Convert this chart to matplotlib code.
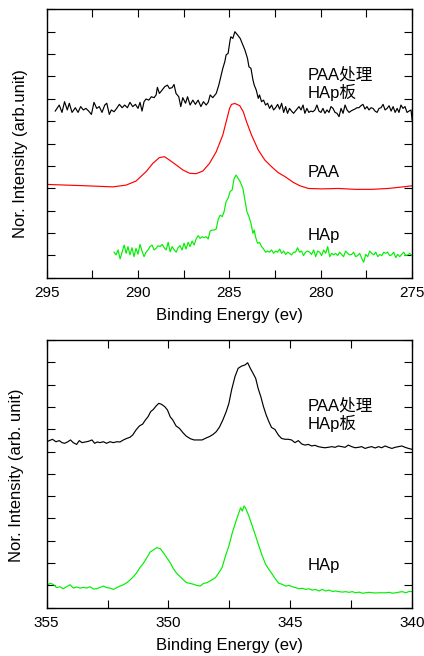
import matplotlib
matplotlib.use("Agg")
import matplotlib.pyplot as plt
from matplotlib.ticker import MultipleLocator, NullFormatter

plt.rcParams['font.family'] = ['Liberation Sans', 'Noto Sans CJK SC', 'DejaVu Sans']

# ---------------- C1s panel (top) ----------------
c1s_treated_e = [294.53, 294.31, 294.16, 294.02, 293.87, 293.76, 293.61, 293.43, 293.28, 293.14,
                 292.99, 292.85, 292.70, 292.55, 292.41, 292.26, 292.12, 291.97, 291.82, 291.71,
                 291.57, 291.46, 291.31, 291.17, 291.02, 290.87, 290.73, 290.58, 290.44, 290.29,
                 290.14, 290.00, 289.89, 289.78, 289.67, 289.56, 289.41, 289.27, 289.12, 289.01,
                 288.94, 288.83, 288.68, 288.54, 288.39, 288.28, 288.13, 288.03, 287.92, 287.77,
                 287.66, 287.55, 287.40, 287.29, 287.15, 287.00, 286.86, 286.71, 286.56, 286.42,
                 286.27, 286.16, 286.05, 285.91, 285.72, 285.58, 285.47, 285.36, 285.25, 285.18,
                 285.07, 284.96, 284.92, 284.81, 284.70, 284.55, 284.41, 284.30, 284.15, 284.01,
                 283.93, 283.82, 283.71, 283.64, 283.53, 283.42, 283.35, 283.24, 283.13, 283.02,
                 282.91, 282.80, 282.69, 282.58, 282.47, 282.36, 282.25, 282.14, 282.03, 281.92,
                 281.82, 281.71, 281.60, 281.49, 281.34, 281.19, 281.08, 280.97, 280.87, 280.76,
                 280.65, 280.54, 280.43, 280.32, 280.21, 280.10, 279.99, 279.88, 279.77, 279.66,
                 279.55, 279.44, 279.33, 279.22, 279.11, 279.00, 278.89, 278.78, 278.67, 278.56,
                 278.45, 278.35, 278.24, 278.13, 278.02, 277.91, 277.80, 277.69, 277.58, 277.47,
                 277.36, 277.25, 277.14, 277.03, 276.92, 276.81, 276.70, 276.59, 276.48, 276.37,
                 276.26, 276.15, 276.04, 275.93, 275.82, 275.72, 275.61, 275.50, 275.39, 275.28,
                 275.17, 275.06, 275.00]
c1s_treated_i = [7.45, 7.72, 7.39, 7.87, 7.50, 7.80, 7.39, 7.60, 7.39, 7.65,
                 7.50, 7.57, 7.45, 7.30, 7.84, 7.57, 7.65, 7.39, 7.72, 7.80,
                 7.30, 7.50, 7.42, 7.57, 7.75, 7.60, 7.72, 7.60, 7.84, 7.65,
                 7.75, 7.57, 7.84, 7.45, 7.87, 7.99, 7.94, 8.09, 8.05, 8.17,
                 8.51, 8.24, 8.39, 8.54, 8.61, 8.46, 8.50, 8.64, 8.24, 8.09,
                 7.65, 8.05, 7.80, 8.09, 7.72, 7.94, 7.75, 7.94, 7.65, 7.87,
                 7.72, 7.84, 8.17, 8.05, 8.24, 8.61, 8.99, 9.36, 9.66, 9.96,
                 10.03, 10.63, 10.77, 10.70, 11.00, 10.85, 10.70, 10.48, 10.18, 9.81,
                 9.43, 9.36, 8.84, 8.61, 8.39, 8.02, 8.17, 7.87, 7.94, 7.72,
                 7.80, 7.57, 7.72, 7.50, 7.60, 7.75, 7.54, 7.80, 7.39, 7.65,
                 7.35, 7.57, 7.45, 7.35, 7.50, 7.65, 7.50, 7.72, 7.35, 7.57,
                 7.39, 7.45, 7.42, 7.50, 7.72, 7.45, 7.39, 7.57, 7.35, 7.50,
                 7.39, 7.65, 7.57, 7.39, 7.35, 7.20, 7.57, 7.35, 7.72, 7.50,
                 7.39, 7.45, 7.50, 7.54, 7.60, 7.60, 7.69, 7.75, 7.54, 7.65,
                 7.50, 7.60, 7.57, 7.45, 7.39, 7.57, 7.60, 7.75, 7.50, 7.57,
                 7.69, 7.45, 7.65, 7.39, 7.57, 7.39, 7.72, 7.57, 7.65, 7.39,
                 7.45, 7.50, 7.05]

c1s_paa_e = [295.00, 293.94, 292.85, 291.38, 290.65, 290.11, 289.56, 289.19, 288.83, 288.55,
             288.28, 287.91, 287.55, 287.18, 286.82, 286.45, 286.09, 285.72, 285.36, 284.99,
             284.88, 284.70, 284.43, 284.24, 284.06, 283.79, 283.42, 283.06, 282.69, 282.33,
             281.96, 281.50, 281.14, 280.68, 279.95, 279.04, 278.12, 277.21, 276.30, 275.39,
             275.00]
c1s_paa_i = [4.17, 4.14, 4.11, 4.06, 4.14, 4.32, 4.74, 5.11, 5.37, 5.41,
             5.26, 5.04, 4.82, 4.67, 4.65, 4.77, 5.11, 5.63, 6.38, 7.57,
             7.75, 7.79, 7.69, 7.42, 6.97, 6.38, 5.71, 5.26, 4.96, 4.70,
             4.52, 4.26, 4.11, 3.99, 3.97, 3.99, 3.95, 3.95, 3.99, 4.07,
             4.11]

c1s_hap_e = [291.31, 291.20, 291.09, 290.98, 290.87, 290.76, 290.65, 290.55, 290.44, 290.33,
             290.22, 290.11, 290.00, 289.89, 289.78, 289.67, 289.56, 289.45, 289.34, 289.23,
             289.12, 289.01, 288.90, 288.79, 288.68, 288.57, 288.46, 288.35, 288.24, 288.13,
             288.02, 287.91, 287.81, 287.70, 287.59, 287.48, 287.37, 287.26, 287.15, 287.04,
             286.93, 286.82, 286.71, 286.60, 286.49, 286.38, 286.27, 286.16, 286.05, 285.94,
             285.83, 285.72, 285.61, 285.50, 285.39, 285.29, 285.18, 285.07, 284.96, 284.85,
             284.74, 284.63, 284.52, 284.41, 284.26, 284.15, 284.04, 283.93, 283.82, 283.71,
             283.64, 283.57, 283.46, 283.35, 283.24, 283.13, 283.02, 282.91, 282.80, 282.69,
             282.58, 282.47, 282.36, 282.25, 282.14, 282.03, 281.92, 281.81, 281.71, 281.60,
             281.49, 281.38, 281.27, 281.16, 281.05, 280.94, 280.83, 280.72, 280.61, 280.50,
             280.39, 280.28, 280.17, 280.06, 279.95, 279.84, 279.73, 279.62, 279.51, 279.40,
             279.29, 279.19, 279.07, 278.97, 278.86, 278.75, 278.64, 278.53, 278.42, 278.31,
             278.20, 278.09, 277.98, 277.87, 277.76, 277.65, 277.54, 277.43, 277.32, 277.21,
             277.10, 276.99, 276.88, 276.77, 276.66, 276.55, 276.45, 276.34, 276.23, 276.12,
             276.01, 275.90, 275.79, 275.68, 275.57, 275.46, 275.35, 275.24, 275.13, 275.02]
c1s_hap_i = [1.14, 1.02, 1.24, 0.84, 1.14, 1.46, 1.09, 1.39, 1.02, 1.34,
             0.94, 1.31, 1.05, 1.49, 1.19, 0.94, 1.14, 1.24, 1.39, 1.46,
             1.24, 1.31, 1.43, 1.39, 1.49, 1.34, 1.24, 1.58, 1.16, 1.39,
             1.24, 1.14, 1.34, 1.43, 1.24, 1.54, 1.28, 1.58, 1.39, 1.64,
             1.46, 1.73, 1.88, 1.76, 1.83, 1.79, 1.83, 1.73, 2.09, 2.13,
             2.13, 2.18, 2.62, 2.80, 2.73, 2.95, 3.40, 3.55, 3.85, 3.92,
             4.44, 4.59, 4.44, 4.29, 3.99, 3.47, 2.95, 2.73, 2.43, 1.98,
             2.13, 1.83, 1.54, 1.58, 1.39, 1.28, 1.14, 1.19, 1.14, 1.24,
             1.09, 1.19, 1.14, 1.28, 1.09, 1.19, 1.04, 1.14, 1.09, 1.02,
             1.14, 1.14, 1.34, 1.14, 1.19, 0.99, 1.14, 1.19, 1.14, 1.04,
             1.24, 0.94, 1.19, 1.14, 0.99, 1.24, 1.09, 1.39, 0.94, 1.09,
             1.02, 1.09, 0.99, 1.14, 1.04, 0.94, 1.19, 1.09, 1.02, 1.04,
             1.14, 0.94, 0.99, 1.09, 0.87, 0.69, 1.04, 0.94, 1.19, 1.09,
             1.02, 1.14, 0.94, 1.04, 0.99, 1.14, 1.09, 1.14, 0.99, 1.02,
             1.14, 0.90, 1.04, 0.94, 1.04, 1.14, 0.99, 1.02, 1.09, 0.99]

# ---------------- bottom panel ----------------
ca_treated_e = [355.00, 354.89, 354.76, 354.62, 354.48, 354.37, 354.26, 354.13, 354.02, 353.91,
                353.77, 353.66, 353.55, 353.41, 353.28, 353.14, 353.03, 352.92, 352.81, 352.67,
                352.54, 352.40, 352.26, 352.12, 351.99, 351.85, 351.71, 351.58, 351.47, 351.33,
                351.19, 351.06, 350.95, 350.84, 350.73, 350.62, 350.51, 350.40, 350.29, 350.15,
                350.04, 349.93, 349.82, 349.69, 349.55, 349.41, 349.28, 349.11, 348.95, 348.78,
                348.62, 348.45, 348.32, 348.18, 348.04, 347.91, 347.77, 347.63, 347.52, 347.41,
                347.27, 347.14, 347.00, 346.86, 346.75, 346.64, 346.53, 346.42, 346.32, 346.21,
                346.10, 345.99, 345.88, 345.77, 345.63, 345.49, 345.36, 345.22, 345.08, 344.95,
                344.81, 344.67, 344.53, 344.40, 344.26, 344.12, 343.99, 343.85, 343.71, 343.58,
                343.44, 343.30, 343.16, 343.03, 342.89, 342.75, 342.62, 342.48, 342.34, 342.20,
                342.07, 341.93, 341.79, 341.66, 341.52, 341.38, 341.25, 341.11, 340.97, 340.83,
                340.70, 340.56, 340.42, 340.29, 340.15, 340.01]
ca_treated_i = [7.44, 7.49, 7.55, 7.44, 7.49, 7.40, 7.37, 7.44, 7.52, 7.40,
                7.32, 7.49, 7.40, 7.43, 7.46, 7.52, 7.37, 7.43, 7.40, 7.44,
                7.37, 7.44, 7.40, 7.44, 7.43, 7.52, 7.59, 7.64, 7.74, 7.97,
                8.15, 8.23, 8.41, 8.56, 8.79, 8.89, 9.04, 9.16, 9.12, 9.01,
                8.86, 8.56, 8.41, 8.15, 8.04, 7.85, 7.70, 7.58, 7.52, 7.52,
                7.52, 7.61, 7.67, 7.76, 7.89, 8.09, 8.41, 8.79, 9.16, 9.76,
                10.36, 10.73, 10.83, 10.88, 10.98, 10.73, 10.51, 10.28, 9.83, 9.46,
                9.01, 8.64, 8.34, 8.08, 7.99, 7.74, 7.59, 7.55, 7.55, 7.52,
                7.40, 7.49, 7.34, 7.29, 7.32, 7.25, 7.28, 7.22, 7.19, 7.17,
                7.19, 7.22, 7.19, 7.25, 7.22, 7.19, 7.29, 7.22, 7.17, 7.19,
                7.22, 7.14, 7.19, 7.22, 7.16, 7.22, 7.17, 7.25, 7.19, 7.14,
                7.19, 7.22, 7.25, 7.19, 7.14, 7.10]

ca_hap_e = [355.00, 354.86, 354.73, 354.59, 354.45, 354.32, 354.18, 354.04, 353.90, 353.77,
            353.63, 353.49, 353.36, 353.22, 353.08, 352.95, 352.81, 352.67, 352.54, 352.40,
            352.26, 352.12, 351.99, 351.85, 351.71, 351.58, 351.44, 351.30, 351.17, 351.03,
            350.89, 350.75, 350.62, 350.48, 350.34, 350.21, 350.07, 349.93, 349.80, 349.66,
            349.52, 349.38, 349.25, 349.11, 348.97, 348.84, 348.70, 348.56, 348.43, 348.29,
            348.07, 347.93, 347.80, 347.66, 347.52, 347.38, 347.25, 347.11, 347.04, 346.97,
            346.90, 346.84, 346.70, 346.56, 346.42, 346.29, 346.15, 346.01, 345.88, 345.74,
            345.60, 345.47, 345.33, 345.19, 345.05, 344.92, 344.78, 344.64, 344.51, 344.37,
            344.23, 344.10, 343.96, 343.82, 343.69, 343.55, 343.41, 343.27, 343.14, 343.00,
            342.86, 342.73, 342.59, 342.45, 342.32, 342.18, 342.04, 341.90, 341.77, 341.63,
            341.49, 341.36, 341.22, 341.08, 340.95, 340.81, 340.67, 340.53, 340.40, 340.26,
            340.12, 340.00]
ca_hap_i = [1.00, 1.09, 1.05, 0.90, 0.94, 0.85, 0.94, 1.03, 0.88, 0.93,
            0.88, 0.91, 0.88, 0.94, 0.84, 0.85, 0.91, 0.97, 0.90, 0.88,
            0.82, 0.90, 0.97, 1.03, 1.12, 1.24, 1.39, 1.57, 1.80, 1.99,
            2.24, 2.50, 2.59, 2.69, 2.65, 2.47, 2.24, 2.02, 1.75, 1.54,
            1.39, 1.24, 1.12, 1.09, 1.05, 1.00, 0.97, 1.09, 1.12, 1.20,
            1.35, 1.57, 1.80, 2.32, 2.77, 3.36, 3.81, 4.26, 4.48, 4.33,
            4.56, 4.48, 4.11, 3.66, 3.21, 2.77, 2.32, 1.94, 1.72, 1.50,
            1.27, 1.09, 1.05, 0.97, 1.00, 0.94, 0.90, 0.85, 0.87, 0.82,
            0.85, 0.79, 0.82, 0.75, 0.82, 0.75, 0.79, 0.73, 0.75, 0.72,
            0.70, 0.72, 0.69, 0.72, 0.67, 0.70, 0.65, 0.67, 0.69, 0.67,
            0.66, 0.67, 0.67, 0.67, 0.69, 0.65, 0.67, 0.70, 0.72, 0.67,
            0.73, 0.72]

xlabel_text = "Binding Energy (ev)"
ylabel_top = "Nor. Intensity (arb.unit)"
ylabel_bottom = "Nor. Intensity (arb. unit)"

fig = plt.figure(figsize=(4.24, 6.56), dpi=100)
ax1 = fig.add_axes([0.110, 0.5767, 0.862, 0.4091])
ax2 = fig.add_axes([0.110, 0.0736, 0.862, 0.4081])

lw = 0.85
green = '#00f000'
ax1.plot(c1s_treated_e, c1s_treated_i, color='black', lw=lw)
ax1.plot(c1s_paa_e, c1s_paa_i, color='#ff0000', lw=lw)
ax1.plot(c1s_hap_e, c1s_hap_i, color=green, lw=lw)
ax2.plot(ca_treated_e, ca_treated_i, color='black', lw=lw)
ax2.plot(ca_hap_e, ca_hap_i, color=green, lw=lw)

ax1.set_xlim(295, 275)
ax2.set_xlim(355, 340)

for ax, lab in [(ax1, ylabel_top), (ax2, ylabel_bottom)]:
    ax.set_ylim(0, 12)
    ax.xaxis.set_major_locator(MultipleLocator(5))
    ax.xaxis.set_minor_locator(MultipleLocator(2.5))
    ax.yaxis.set_major_locator(MultipleLocator(1))
    ax.yaxis.set_major_formatter(NullFormatter())
    ax.tick_params(which='both', direction='in', top=True, right=True,
                   length=5.5, width=0.8, labelsize=11, pad=6)
    for s in ax.spines.values():
        s.set_linewidth(1.0)
    ax.set_xlabel(xlabel_text, fontsize=12, labelpad=6)
    ax.set_ylabel(lab, fontsize=12)

ax1.yaxis.set_label_coords(-0.051, 0.463)
ax2.yaxis.set_label_coords(-0.063, 0.496)

fs = 12
ax1.text(280.7, 8.88, "PAA处理", fontsize=fs, va='baseline')
ax1.text(280.7, 8.05, "HAp板", fontsize=fs, va='baseline')
ax1.text(280.7, 4.51, "PAA", fontsize=fs, va='baseline')
ax1.text(280.7, 1.69, "HAp", fontsize=fs, va='baseline')
ax2.text(344.28, 8.86, "PAA处理", fontsize=fs, va='baseline')
ax2.text(344.28, 8.00, "HAp板", fontsize=fs, va='baseline')
ax2.text(344.28, 1.69, "HAp", fontsize=fs, va='baseline')

fig.savefig("out.png", dpi=100)
